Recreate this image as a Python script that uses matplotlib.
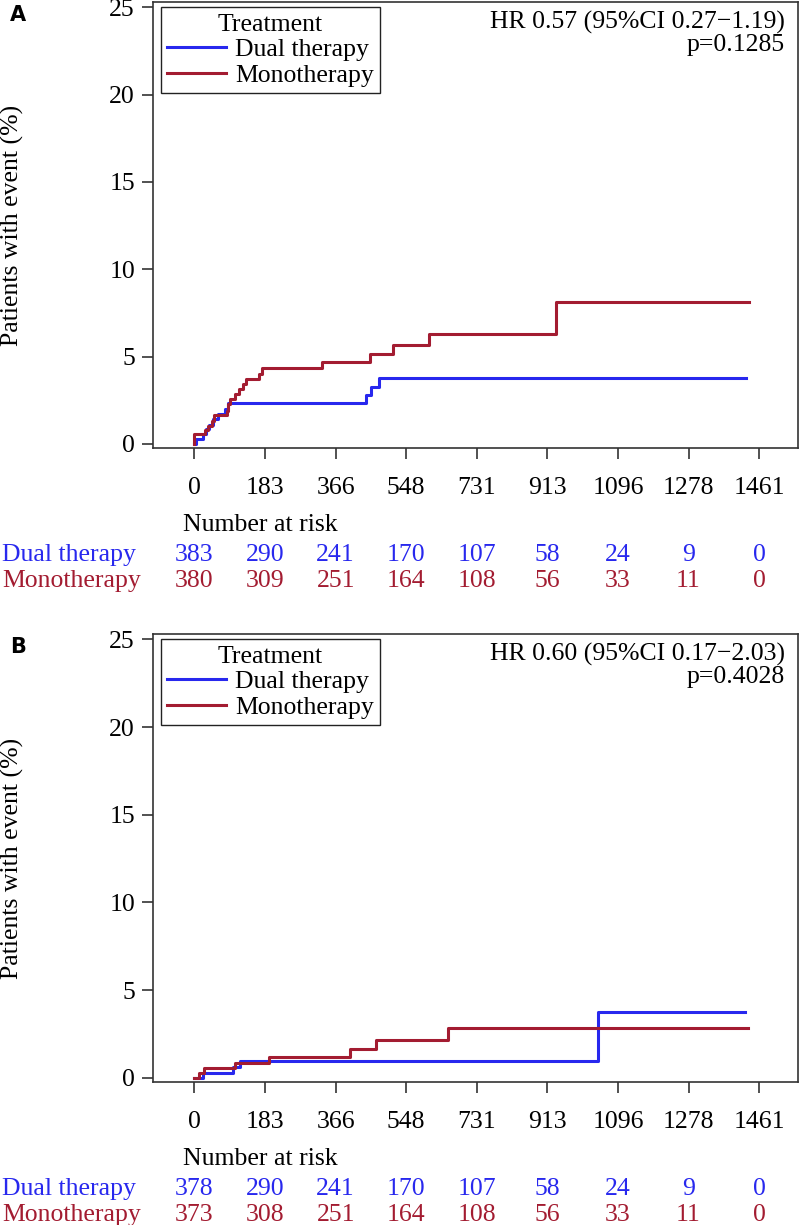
import matplotlib.pyplot as plt
from matplotlib.transforms import blended_transform_factory

plt.rcParams["font.family"] = ["Liberation Serif", "DejaVu Serif"]

BLUE = "#2828ee"
RED = "#a31c31"

x_ticks = [0, 183, 366, 548, 731, 913, 1096, 1278, 1461]
y_ticks = [0, 5, 10, 15, 20, 25]

# Panel A
a_dual_t = [0, 4, 22, 30, 40, 50, 62, 79, 89, 445, 457, 479, 1426]
a_dual_v = [0, 0.28, 0.55, 0.85, 1.1, 1.45, 1.72, 2.02, 2.34, 2.8, 3.26, 3.77, 3.77]
a_mono_t = [0, 0, 29, 36, 47, 51, 86, 89, 94, 105, 115, 126, 135, 169, 177,
            332, 455, 513, 607, 935, 1434]
a_mono_v = [0, 0.57, 0.82, 1.05, 1.33, 1.66, 1.9, 2.28, 2.57, 2.86, 3.14, 3.43,
            3.71, 4.0, 4.36, 4.67, 5.14, 5.66, 6.3, 8.1, 8.1]
a_risk_dual = [383, 290, 241, 170, 107, 58, 24, 9, 0]
a_risk_mono = [380, 309, 251, 164, 108, 56, 33, 11, 0]
a_stats = ["HR 0.57 (95%CI 0.27\u22121.19)", "p=0.1285"]

# Panel B
b_dual_t = [0, 22, 102, 119, 1045, 1425]
b_dual_v = [0, 0.29, 0.63, 0.95, 3.76, 3.76]
b_mono_t = [0, 14, 27, 106, 193, 403, 470, 657, 1433]
b_mono_v = [0, 0.29, 0.57, 0.86, 1.2, 1.65, 2.15, 2.87, 2.87]
b_risk_dual = [378, 290, 241, 170, 107, 58, 24, 9, 0]
b_risk_mono = [373, 308, 251, 164, 108, 56, 33, 11, 0]
b_stats = ["HR 0.60 (95%CI 0.17\u22122.03)", "p=0.4028"]

W, H = 800, 1225
FS = 18.5


def plot_panel(fig, top_px, bottom_px, letter, dual_t, dual_v, mono_t, mono_v,
               risk_dual, risk_mono, stats):
    left_px, right_px = 153, 798
    ax = fig.add_axes([left_px / W, 1 - bottom_px / H,
                       (right_px - left_px) / W, (bottom_px - top_px) / H])
    ax.plot(dual_t, dual_v, drawstyle="steps-post", color=BLUE, lw=2.2,
            label="Dual therapy")
    ax.plot(mono_t, mono_v, drawstyle="steps-post", color=RED, lw=2.2,
            label="Monotherapy")
    ax.set_xlim(-106, 1561)
    ax.set_ylim(-0.23, 25.3)
    ax.set_xticks(x_ticks)
    ax.set_yticks(y_ticks)
    ax.tick_params(labelsize=FS, length=8, width=1.2, color="#333333")
    ax.tick_params(axis="x", pad=13)
    ax.tick_params(axis="y", pad=5)
    for s in ax.spines.values():
        s.set_color("#333333")
        s.set_linewidth(1.2)
    ax.set_ylabel("Patients with event (%)", fontsize=FS)
    ax.yaxis.set_label_coords(-0.2, 0.5)

    leg = ax.legend(title="Treatment", loc="upper left",
                    bbox_to_anchor=(0.012, 0.988), fontsize=FS,
                    title_fontsize=FS, fancybox=False, edgecolor="#222222",
                    framealpha=1, handlelength=2.3, handletextpad=0.35,
                    labelspacing=0.1, borderpad=0.25, borderaxespad=0)
    leg.get_frame().set_linewidth(1.0)

    ax.text(0.98, 0.955, stats[0], transform=ax.transAxes, ha="right",
            va="center", fontsize=FS)
    ax.text(0.98, 0.903, stats[1], transform=ax.transAxes, ha="right",
            va="center", fontsize=FS)

    fig.text(10 / W, 1 - (top_px + 13) / H, letter, fontsize=15,
             fontweight="bold", family="DejaVu Sans", va="center")

    tr = blended_transform_factory(ax.transData, fig.transFigure)
    y_head = 1 - (bottom_px + 77) / H
    y_dual = 1 - (bottom_px + 107) / H
    y_mono = 1 - (bottom_px + 133) / H
    fig.text(183 / W, y_head, "Number at risk", fontsize=FS, va="center")
    fig.text(2 / W, y_dual, "Dual therapy", fontsize=FS, va="center", color=BLUE)
    fig.text(2 / W, y_mono, "Monotherapy", fontsize=FS, va="center", color=RED)
    for x, nd, nm in zip(x_ticks, risk_dual, risk_mono):
        ax.text(x, y_dual, str(nd), transform=tr, ha="center", va="center",
                fontsize=FS, color=BLUE)
        ax.text(x, y_mono, str(nm), transform=tr, ha="center", va="center",
                fontsize=FS, color=RED)
    return ax


def main():
    fig = plt.figure(figsize=(W / 100, H / 100), dpi=100)
    plot_panel(fig, 2, 448, "A", a_dual_t, a_dual_v, a_mono_t, a_mono_v,
               a_risk_dual, a_risk_mono, a_stats)
    plot_panel(fig, 634, 1082, "B", b_dual_t, b_dual_v, b_mono_t, b_mono_v,
               b_risk_dual, b_risk_mono, b_stats)
    fig.savefig("out.png", dpi=100)


if __name__ == "__main__":
    main()
